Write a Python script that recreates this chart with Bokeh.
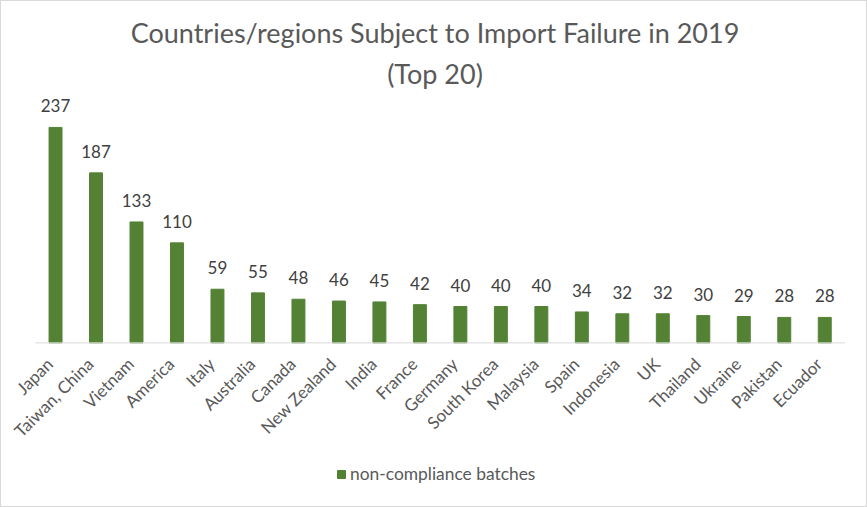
import math
from bokeh.plotting import figure
from bokeh.core.properties import value
from bokeh.models import ColumnDataSource, LabelSet, Legend, LegendItem, Range1d, Title
from bokeh.embed import file_html
from bokeh.resources import INLINE

countries = ["Japan", "Taiwan, China", "Vietnam", "America", "Italy", "Australia", "Canada",
             "New Zealand", "India", "France", "Germany", "South Korea", "Malaysia", "Spain",
             "Indonesia", "UK", "Thailand", "Ukraine", "Pakistan", "Ecuador"]
batches = [237, 187, 133, 110, 59, 55, 48, 46, 45, 42, 40, 40, 40, 34, 32, 32, 30, 29, 28, 28]
title_lines = ["Countries/regions Subject to Import Failure in 2019", "(Top 20)"]
series_name = "non-compliance batches"

FONT = "Lato"
GREEN = "#548235"
TXT = "#595959"

n = len(countries)
pos = list(range(n))
src = ColumnDataSource(dict(x=pos, c=countries, v=batches, t=[str(b) for b in batches],
                            base=[0] * n))

# ranges extend beyond the bars to leave room for slanted category labels and the legend
p = figure(x_range=Range1d(-1.31, n + 0.056), y_range=Range1d(-180, 271), width=867, height=507,
           output_backend="svg", toolbar_location=None,
           min_border_left=1, min_border_right=1, min_border_top=95, min_border_bottom=2)
p.title = None
p.add_layout(Title(text=title_lines[1], align="center", text_font=FONT, text_font_size="27px",
                   text_font_style="normal", text_color=TXT, standoff=13, offset=0), "above")
p.add_layout(Title(text=title_lines[0], align="center", text_font=FONT, text_font_size="27px",
                   text_font_style="normal", text_color=TXT, standoff=0, offset=0), "above")

r = p.vbar(x="x", top="v", bottom="base", width=0.32, color=GREEN, source=src)

# category axis line
p.segment(x0=[-0.5], y0=[0], x1=[n - 0.5], y1=[0], line_color="#d9d9d9", line_width=1)

labels = LabelSet(x="x", y="v", text="t", source=src, text_align="center", text_baseline="bottom",
                  y_offset=15, text_font=value(FONT), text_font_size="17px", text_color="#404040")
p.add_layout(labels)

cat_labels = LabelSet(x="x", y="base", text="c", source=src, angle=math.pi / 4,
                      text_align="right", text_baseline="middle", x_offset=-6, y_offset=-18,
                      text_font=value(FONT), text_font_size="17px", text_color=TXT)
p.add_layout(cat_labels)

p.xaxis.visible = False
p.yaxis.visible = False
p.xgrid.grid_line_color = None
p.ygrid.grid_line_color = None
p.outline_line_color = None

legend = Legend(items=[LegendItem(label=series_name, renderers=[r])],
                orientation="horizontal", location=(334, 22), border_line_color=None,
                background_fill_alpha=0,
                label_text_font=FONT, label_text_font_size="17.4px", label_text_color=TXT,
                glyph_width=10, glyph_height=10, padding=0, margin=0, label_standoff=4)
p.add_layout(legend, "center")

p.styles = {"border": "1px solid #d9d9d9", "box-sizing": "border-box"}

open("out.html", "w").write(file_html(p, INLINE))
